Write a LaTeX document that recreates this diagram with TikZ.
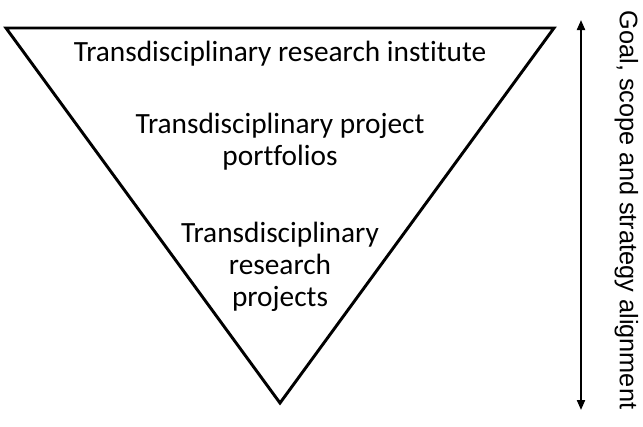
\documentclass[tikz,border=0pt]{standalone}
\usepackage{fontspec}
\setmainfont{Carlito}[Ligatures=NoCommon]
\newfontfamily\sidefont{Liberation Sans}
\usepackage{tikz}
\usetikzlibrary{arrows.meta}

\tikzset{
	tier/.style = {inner sep=0pt, align=center, font=\fontsize{22}{24}\selectfont},
	sidelabel/.style = {inner sep=0pt, rotate=-90, font=\sidefont\fontsize{19}{22}\selectfont}
}

\begin{document}
\begin{tikzpicture}[x=0.75pt, y=-0.75pt]
	\useasboundingbox (0,0) rectangle (643,426);
	% inverted triangle
	\draw[line width=2.2pt, line join=miter] (6,28) -- (554,28) -- (280,403) -- cycle;
	% the three levels
	\node[tier] (institute) at (280,53.5) {Transdisciplinary research institute};
	\node[tier] (portfolios) at (280,142) {Transdisciplinary project\\portfolios};
	\node[tier] (projects) at (280,267) {Transdisciplinary\\research\\projects};
	% alignment arrow on the right
	\coordinate (top) at (581,20);
	\coordinate (bottom) at (581,410);
	\draw[line width=1.5pt, {Triangle[length=7.5pt,width=6pt]}-{Triangle[length=7.5pt,width=6pt]}] (top) -- (bottom);
	\node[sidelabel] (alignment) at (626.5,210) {Goal, scope and strategy alignment};
\end{tikzpicture}
\end{document}
